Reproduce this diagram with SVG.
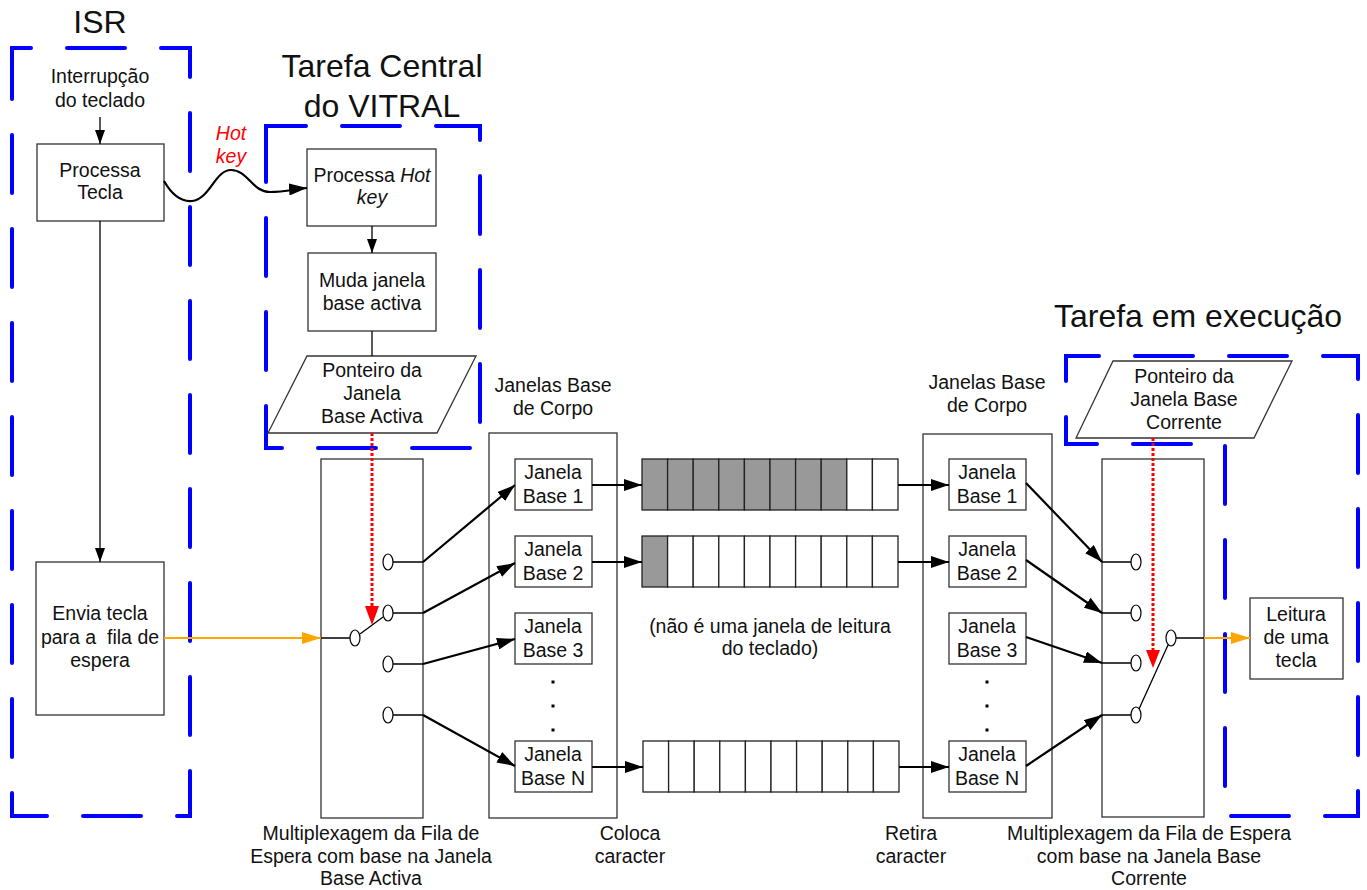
<svg xmlns="http://www.w3.org/2000/svg" width="1367" height="890" viewBox="0 0 1367 890">
<defs>
<style>
text{font-family:"Liberation Sans",Arial,sans-serif;font-size:19.5px;fill:#111;text-anchor:middle}
.title{font-size:32px}
.box{fill:#fff;stroke:#333;stroke-width:1.3}
.frame{fill:none;stroke:#0000FF;stroke-width:4;stroke-linecap:round;stroke-dasharray:58 36}
.thin{fill:none;stroke:#000;stroke-width:1.3}
.thick{fill:none;stroke:#000;stroke-width:2.2}
.orange{fill:none;stroke:#FFA500;stroke-width:2.2}
.red{fill:none;stroke:#FF0000;stroke-width:3;stroke-dasharray:3 2}
.cell{fill:#fff;stroke:#222;stroke-width:1.3}
.full{fill:#999;stroke:#222;stroke-width:1.3}
.port{fill:#fff;stroke:#000;stroke-width:1.2}
.hot{fill:#FF0000;font-style:italic}
</style>
<marker id="aS" markerUnits="userSpaceOnUse" markerWidth="14" markerHeight="10" refX="14" refY="5" orient="auto"><path d="M0,0 L14,5 L0,10 z" fill="#000"/></marker>
<marker id="aB" markerUnits="userSpaceOnUse" markerWidth="18" markerHeight="12" refX="18" refY="6" orient="auto"><path d="M0,0 L18,6 L0,12 z" fill="#000"/></marker>
<marker id="aO" markerUnits="userSpaceOnUse" markerWidth="19" markerHeight="12" refX="19" refY="6" orient="auto"><path d="M0,0 L19,6 L0,12 z" fill="#FFA500"/></marker>
</defs>
<rect width="1367" height="890" fill="#fff"/>

<g id="frames">
<path class="frame" d="M12,48 H190 V816 H12 Z" stroke-dashoffset="39"/>
<path class="frame" d="M266,126 H480 V448 H266 Z" stroke-dashoffset="18"/>
<path class="frame" d="M1066,356 H1358 V816 H1225 V444 H1066 Z" stroke-dashoffset="25"/>
<text class="title" x="100" y="33">ISR</text>
<text class="title" x="382" y="77">Tarefa Central</text>
<text class="title" x="382" y="117">do VITRAL</text>
<text class="title" x="1198" y="327">Tarefa em execução</text>
</g>

<g id="isr-input">
<text x="100" y="83">Interrupção</text>
<text x="100" y="107">do teclado</text>
</g>
<g id="processa-tecla">
<rect class="box" x="37" y="144" width="127" height="77"/>
<text x="100" y="177">Processa</text>
<text x="100" y="199">Tecla</text>
</g>
<g id="envia-tecla">
<rect class="box" x="36" y="562" width="128" height="153"/>
<text x="100" y="620">Envia tecla</text>
<text x="100" y="644" xml:space="preserve">para a  fila de</text>
<text x="100" y="667">espera</text>
</g>
<g id="processa-hotkey">
<rect class="box" x="307" y="149" width="129" height="77"/>
<text x="372" y="182">Processa <tspan font-style="italic">Hot</tspan></text>
<text x="372" y="204" font-style="italic">key</text>
</g>
<g id="muda-janela">
<rect class="box" x="308" y="253" width="128" height="78"/>
<text x="372" y="287">Muda janela</text>
<text x="372" y="310">base activa</text>
</g>
<g id="ponteiro-activa">
<polygon class="box" points="307,356 476,356 437,433 268,433"/>
<text x="372" y="377">Ponteiro da</text>
<text x="372" y="400">Janela</text>
<text x="372" y="423">Base Activa</text>
</g>

<g id="mux-left">
<rect class="box" x="321" y="459" width="102" height="359"/>
<path class="thin" d="M321,638 H350 M393,562 H423 M393,613 H423 M393,664 H423 M393,715 H423 M360,634 L383,617"/>
<ellipse class="port" cx="355" cy="638" rx="5" ry="8"/>
<ellipse class="port" cx="388" cy="562" rx="5" ry="8"/>
<ellipse class="port" cx="388" cy="613" rx="5" ry="8"/>
<ellipse class="port" cx="388" cy="664" rx="5" ry="8"/>
<ellipse class="port" cx="388" cy="715" rx="5" ry="8"/>
<text x="371" y="840">Multiplexagem da Fila de</text>
<text x="371" y="863">Espera com base na Janela</text>
<text x="371" y="885">Base Activa</text>
</g>

<g id="janelas-left">
<text x="553" y="392">Janelas Base</text>
<text x="553" y="415">de Corpo</text>
<rect class="box" x="489" y="433" width="128" height="385"/>
<rect class="box" x="515" y="459" width="77" height="51"/>
<text x="553" y="479">Janela</text><text x="553" y="503">Base 1</text>
<rect class="box" x="515" y="536" width="77" height="51"/>
<text x="553" y="556">Janela</text><text x="553" y="580">Base 2</text>
<rect class="box" x="515" y="613" width="77" height="51"/>
<text x="553" y="633">Janela</text><text x="553" y="657">Base 3</text>
<rect x="551.5" y="680.5" width="3" height="3" fill="#000"/>
<rect x="551.5" y="704.5" width="3" height="3" fill="#000"/>
<rect x="551.5" y="728.5" width="3" height="3" fill="#000"/>
<rect class="box" x="515" y="741" width="77" height="51"/>
<text x="553" y="761">Janela</text><text x="553" y="785">Base N</text>
<text x="630" y="840">Coloca</text>
<text x="630" y="863">caracter</text>
</g>

<g id="queue-1">
<rect class="full" x="642" y="459" width="25.6" height="51"/>
<rect class="full" x="667.6" y="459" width="25.6" height="51"/>
<rect class="full" x="693.2" y="459" width="25.6" height="51"/>
<rect class="full" x="718.8" y="459" width="25.6" height="51"/>
<rect class="full" x="744.4" y="459" width="25.6" height="51"/>
<rect class="full" x="770" y="459" width="25.6" height="51"/>
<rect class="full" x="795.6" y="459" width="25.6" height="51"/>
<rect class="full" x="821.2" y="459" width="25.6" height="51"/>
<rect class="cell" x="846.8" y="459" width="25.6" height="51"/>
<rect class="cell" x="872.4" y="459" width="25.6" height="51"/>
</g>
<g id="queue-2">
<rect class="full" x="642" y="536" width="25.6" height="51"/>
<rect class="cell" x="667.6" y="536" width="25.6" height="51"/>
<rect class="cell" x="693.2" y="536" width="25.6" height="51"/>
<rect class="cell" x="718.8" y="536" width="25.6" height="51"/>
<rect class="cell" x="744.4" y="536" width="25.6" height="51"/>
<rect class="cell" x="770" y="536" width="25.6" height="51"/>
<rect class="cell" x="795.6" y="536" width="25.6" height="51"/>
<rect class="cell" x="821.2" y="536" width="25.6" height="51"/>
<rect class="cell" x="846.8" y="536" width="25.6" height="51"/>
<rect class="cell" x="872.4" y="536" width="25.6" height="51"/>
</g>
<g id="queue-n">
<rect class="cell" x="643" y="741" width="25.6" height="51"/>
<rect class="cell" x="668.6" y="741" width="25.6" height="51"/>
<rect class="cell" x="694.2" y="741" width="25.6" height="51"/>
<rect class="cell" x="719.8" y="741" width="25.6" height="51"/>
<rect class="cell" x="745.4" y="741" width="25.6" height="51"/>
<rect class="cell" x="771" y="741" width="25.6" height="51"/>
<rect class="cell" x="796.6" y="741" width="25.6" height="51"/>
<rect class="cell" x="822.2" y="741" width="25.6" height="51"/>
<rect class="cell" x="847.8" y="741" width="25.6" height="51"/>
<rect class="cell" x="873.4" y="741" width="25.6" height="51"/>
</g>
<g id="note">
<text x="770" y="633">(não é uma janela de leitura</text>
<text x="770" y="655">do teclado)</text>
</g>

<g id="janelas-right">
<text x="987" y="389">Janelas Base</text>
<text x="987" y="412">de Corpo</text>
<rect class="box" x="923" y="434" width="129" height="384"/>
<rect class="box" x="949" y="459" width="77" height="51"/>
<text x="987" y="479">Janela</text><text x="987" y="503">Base 1</text>
<rect class="box" x="949" y="536" width="77" height="51"/>
<text x="987" y="556">Janela</text><text x="987" y="580">Base 2</text>
<rect class="box" x="949" y="613" width="77" height="51"/>
<text x="987" y="633">Janela</text><text x="987" y="657">Base 3</text>
<rect x="985.5" y="680.5" width="3" height="3" fill="#000"/>
<rect x="985.5" y="704.5" width="3" height="3" fill="#000"/>
<rect x="985.5" y="728.5" width="3" height="3" fill="#000"/>
<rect class="box" x="949" y="741" width="77" height="51"/>
<text x="987" y="761">Janela</text><text x="987" y="785">Base N</text>
<text x="911" y="840">Retira</text>
<text x="911" y="863">caracter</text>
</g>

<g id="ponteiro-corrente">
<polygon class="box" points="1113,361 1292,361 1254,438 1076,438"/>
<text x="1184" y="383">Ponteiro da</text>
<text x="1184" y="406">Janela Base</text>
<text x="1184" y="429">Corrente</text>
</g>

<g id="mux-right">
<rect class="box" x="1102" y="459" width="102" height="358"/>
<path class="thin" d="M1102,562 H1131 M1102,613 H1131 M1102,663 H1131 M1102,715 H1131 M1176,638 H1204 M1139,709 L1168,645"/>
<ellipse class="port" cx="1136" cy="562" rx="5" ry="8"/>
<ellipse class="port" cx="1136" cy="613" rx="5" ry="8"/>
<ellipse class="port" cx="1136" cy="663" rx="5" ry="8"/>
<ellipse class="port" cx="1136" cy="715" rx="5" ry="8"/>
<ellipse class="port" cx="1171" cy="638" rx="5" ry="8"/>
<text x="1149" y="840">Multiplexagem da Fila de Espera</text>
<text x="1149" y="863">com base na Janela Base</text>
<text x="1149" y="885">Corrente</text>
</g>

<g id="leitura">
<rect class="box" x="1250" y="598" width="93" height="81"/>
<text x="1296" y="621">Leitura</text>
<text x="1296" y="644">de uma</text>
<text x="1296" y="667">tecla</text>
</g>

<g id="connectors">
<path class="thin" d="M100,117 V144" marker-end="url(#aS)"/>
<path class="thin" d="M100,221 V562" marker-end="url(#aS)"/>
<path class="thin" d="M372,226 V253" marker-end="url(#aS)"/>
<path class="thin" d="M372,331 V356"/>
<path class="thick" d="M164,181 C172,195 181,202 192,201 C210,199 215,170 231,170 C248,170 252,192 270,192 C285,192 295,189 307,188" marker-end="url(#aB)"/>
<text class="hot" x="231" y="140">Hot</text>
<text class="hot" x="231" y="163">key</text>
<path class="orange" d="M164,638 H321" marker-end="url(#aO)"/>
<path class="orange" d="M1204,638 H1250" marker-end="url(#aO)"/>
<path class="red" d="M372,433 V606"/>
<path d="M365,606 L379,606 L372,625 z" fill="#FF0000"/>
<path class="red" d="M1153,438 V650"/>
<path d="M1146,650 L1160,650 L1153,668 z" fill="#FF0000"/>
<path class="thick" d="M423,562 L515,485" marker-end="url(#aB)"/>
<path class="thick" d="M423,613 L515,563" marker-end="url(#aB)"/>
<path class="thick" d="M423,664 L515,639" marker-end="url(#aB)"/>
<path class="thick" d="M423,715 L515,766" marker-end="url(#aB)"/>
<path class="thick" d="M592,485 H642" marker-end="url(#aB)"/>
<path class="thick" d="M592,562 H642" marker-end="url(#aB)"/>
<path class="thick" d="M592,767 H643" marker-end="url(#aB)"/>
<path class="thick" d="M898,485 H949" marker-end="url(#aB)"/>
<path class="thick" d="M898,562 H949" marker-end="url(#aB)"/>
<path class="thick" d="M899,767 H949" marker-end="url(#aB)"/>
<path class="thick" d="M1026,483 L1102,562" marker-end="url(#aB)"/>
<path class="thick" d="M1026,560 L1102,613" marker-end="url(#aB)"/>
<path class="thick" d="M1026,637 L1102,663" marker-end="url(#aB)"/>
<path class="thick" d="M1026,766 L1102,715" marker-end="url(#aB)"/>
</g>
</svg>
